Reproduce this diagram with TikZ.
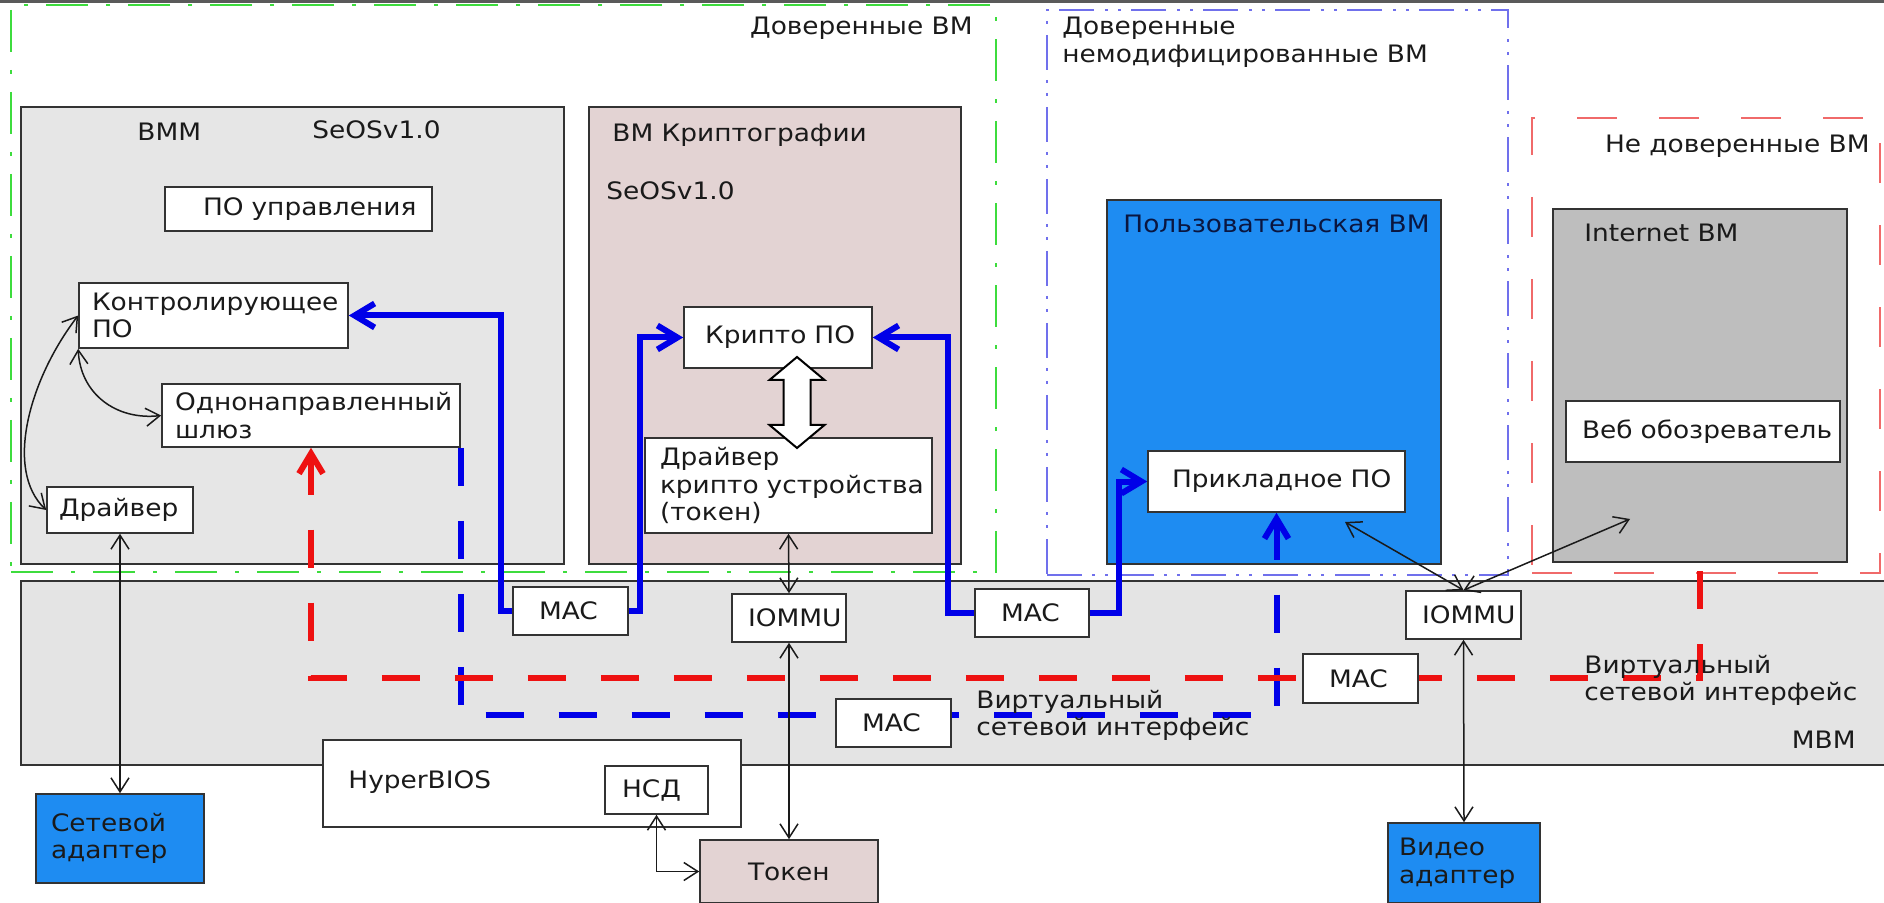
\documentclass[tikz,border=0pt]{standalone}
\usepackage{fontspec}
\setmainfont[FakeStretch=1.1]{DejaVu Sans}
\usetikzlibrary{arrows.meta}
\definecolor{edge}{HTML}{333333}
\definecolor{txt}{HTML}{1A1A1A}
\definecolor{bmmfill}{HTML}{E6E6E6}
\definecolor{bandfill}{HTML}{E4E4E4}
\definecolor{pinkfill}{HTML}{E3D3D3}
\definecolor{userblue}{HTML}{1E8CF2}
\definecolor{inetgray}{HTML}{BEBEBE}
\definecolor{frgreen}{HTML}{3DDC3D}
\definecolor{frblue}{HTML}{7070EC}
\definecolor{frred}{HTML}{F06A6A}
\definecolor{lnblue}{HTML}{0000E8}
\definecolor{lnred}{HTML}{EE1111}
\definecolor{navytxt}{HTML}{0A1640}
\definecolor{topline}{HTML}{5A5A5A}
\pgfdeclarelayer{bg}\pgfdeclarelayer{conn}\pgfsetlayers{bg,conn,main}
\newcommand\bx[8]{%
 \pgfmathsetmacro\bxw{(#5-#3)*0.5}%
 \pgfmathsetmacro\bxh{(#6-#4)*0.5}%
 \pgfmathsetmacro\bxt{max(1,(#5-#3-2*#7)*0.5)}%
 \node[#1, minimum width=\bxw pt, minimum height=\bxh pt, text width=\bxt pt] (#2) at ({(#3+#5)/2},{(#4+#6)/2}) {#8};}
\newcommand\tl[2]{\vtop{\hbox{#1}\hbox{#2}}}
\tikzset{
 box/.style={draw=edge, line width=0.8pt, fill=white, inner sep=0pt, align=left, text=txt},
 frameG/.style={draw=frgreen, line width=1pt, dash pattern=on 21pt off 9pt on 2pt off 9pt, inner sep=0pt},
 frameB/.style={draw=frblue, line width=1pt, dash pattern=on 17.5pt off 5pt on 1.5pt off 5pt on 1.5pt off 5.5pt, inner sep=0pt},
 frameR/.style={draw=frred, line width=1pt, dash pattern=on 20pt off 21pt, inner sep=0pt},
 lbl/.style={anchor=base west, inner sep=0pt, text=txt},
 lble/.style={anchor=base east, inner sep=0pt, text=txt},
 bth/.style={draw=lnblue, line width=3pt, -{Straight Barb[length=10pt,width=12pt]}},
 bdash/.style={draw=lnblue, line width=3pt, dash pattern=on 19pt off 17.5pt},
 rdash/.style={draw=lnred, line width=3pt, dash pattern=on 19pt off 17.5pt},
 bigtip/.style={{Straight Barb[length=10pt,width=12pt]}-},
 thinar/.style={draw=txt, line width=0.75pt, {Straight Barb[length=7pt,width=9pt]}-{Straight Barb[length=7pt,width=9pt]}},
 dblar/.style={draw=black, line width=1pt, fill=white, line join=miter},
 topl/.style={draw=topline, line width=1.5pt}
}
\begin{document}
\begin{tikzpicture}[x=0.5pt,y=-0.5pt, font=\fontsize{12}{13.75}\selectfont]
\useasboundingbox (0,0) rectangle (1884,903);
\begin{pgfonlayer}{bg}
\draw[topl] (0,1.5) -- (1884,1.5);
\bx{frameG}{frG}{11}{5}{996}{572}{0}{}
\bx{frameB}{frB}{1047}{10}{1508}{575}{0}{}
\bx{frameR}{frR}{1532}{118}{1880}{573}{0}{}
\bx{box,fill=bmmfill}{bmm}{21}{107}{564}{564}{0}{}
\bx{box,fill=pinkfill}{kvm}{589}{107}{961}{564}{0}{}
\bx{box,fill=userblue}{uvm}{1107}{200}{1441}{564}{0}{}
\bx{box,fill=inetgray}{ivm}{1553}{209}{1847}{562}{0}{}
\bx{box,fill=bandfill}{band}{21}{581}{1900}{765}{0}{}
\bx{box}{hyper}{323}{740}{741}{827}{0}{}
\end{pgfonlayer}
% labels
\node[lble] (tG) at (973,35) {Доверенные ВМ};
\node[lbl] (tBmm) at (137,141) {ВММ};
\node[lbl] (tSeos1) at (312,139) {SeOSv1.0};
\node[lbl] (tKvm) at (612,142) {ВМ Криптографии};
\node[lbl] (tSeos2) at (606,200) {SeOSv1.0};
\node[lbl] (tB) at (1062,35) {\tl{Доверенные}{немодифицированные ВМ}};
\node[lbl, text=navytxt] (tUvm) at (1123,233) {Пользовательская ВМ};
\node[lble] (tR) at (1870,153) {Не доверенные ВМ};
\node[lbl] (tIvm) at (1584,242) {Internet BM};
\node[lble] (tBand) at (1856,748) {МВМ};
\node[lbl] (tHyper) at (348,788) {HyperBIOS};
% boxes
\bx{box}{pou}{165}{187}{432}{231}{38}{ПО~управления}
\bx{box}{kpo}{79}{283}{348}{348}{13}{Контролирующее\\ПО}
\bx{box}{gw}{162}{384}{460}{447}{13}{Однонаправленный\\шлюз}
\bx{box}{drv}{47}{487}{193}{533}{12}{Драйвер}
\bx{box}{cpo}{684}{307}{872}{368}{21}{Крипто~ПО}
\bx{box}{cdrv}{645}{438}{932}{533}{15}{Драйвер\\крипто~устройства\\(токен)}
\bx{box}{app}{1148}{451}{1405}{512}{24}{Прикладное~ПО}
\bx{box}{web}{1566}{401}{1840}{462}{16}{Веб~обозреватель}
\bx{box}{mac1}{513}{587}{628}{635}{26}{MAC}
\bx{box}{iommu1}{732}{594}{846}{642}{16}{IOMMU}
\bx{box}{mac2}{975}{589}{1089}{637}{26}{MAC}
\bx{box}{iommu2}{1406}{591}{1521}{639}{16}{IOMMU}
\bx{box}{mac3}{1303}{654}{1418}{703}{26}{MAC}
\bx{box}{mac4}{836}{699}{951}{747}{26}{MAC}
\bx{box}{nsd}{605}{766}{708}{814}{17}{НСД}
\bx{box,fill=userblue}{net}{36}{794}{204}{883}{15}{Сетевой\\адаптер}
\bx{box,fill=pinkfill}{token}{700}{840}{878}{903}{48}{Токен}
\bx{box,fill=userblue}{video}{1388}{823}{1540}{903}{11}{Видео\\адаптер}
\node[lbl] (tV1) at (976,708) {\tl{Виртуальный}{сетевой интерфейс}};
\node[lbl] (tV2) at (1584,673) {\tl{Виртуальный}{сетевой интерфейс}};
% thick connectors
\begin{pgfonlayer}{conn}
\draw[bth] (mac1.west) -- ++(-11,0) |- (kpo.east);
\draw[bth] (mac1.east) -- ++(11,0) |- (cpo.west);
\draw[bth] (mac2.west) -- ++(-26,0) |- (cpo.east);
\draw[bth] (mac2.east) -- ++(29,0) |- (app.west);
\draw[bdash] (gw.south east) |- ([yshift=4pt]mac4.west);
\draw[bdash, bigtip] (app.south) |- ([yshift=4pt]mac4.east);
\draw[rdash, bigtip] (gw.south) -- ++(0,230) -| (ivm.south);
\end{pgfonlayer}
% thin arrows
\coordinate (appEnd) at (1345,522);
\coordinate (ivmEnd) at (1630,519);
\draw[thinar] (kpo.west) .. controls +(-49,64) and +(-42,-40) .. (drv.west);
\draw[thinar] (kpo.south west) .. controls +(2,45) and +(-45,5) .. (gw.west);
\draw[thinar] (drv.south) -- (net.north);
\draw[thinar] (cdrv.south) -- (iommu1.north);
\draw[thinar] (iommu1.south) -- (token.north);
\draw[thinar] (nsd.south) |- (token.west);
\draw[thinar] (iommu2.north) -- (appEnd);
\draw[thinar] (iommu2.north) -- (ivmEnd);
\draw[thinar] (iommu2.south) -- (video.north);
% white double arrow
\coordinate (dar) at (797,402.5);
\draw[dblar] ([yshift=22.75pt]dar) -- ++(27.5,23) -- ++(-14,0) -- ++(0,45) -- ++(14,0) -- ++(-27.5,23) -- ++(-27.5,-23) -- ++(14,0) -- ++(0,-45) -- ++(-14,0) -- cycle;
\end{tikzpicture}
\end{document}
